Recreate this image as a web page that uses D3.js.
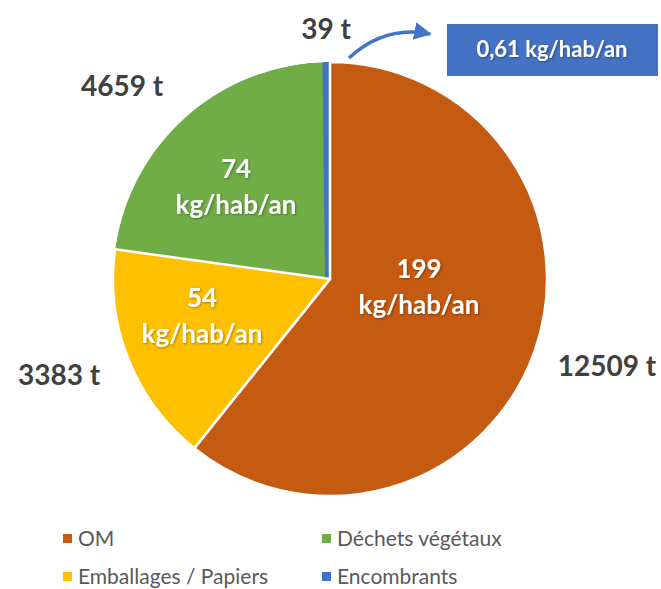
<!DOCTYPE html>
<html>
<head>
<meta charset="utf-8">
<script src="https://cdn.jsdelivr.net/npm/d3@7"></script>
<style>
  body { margin: 0; background: #fff; }
  svg { display: block; font-family: Lato, "Open Sans", sans-serif; }
</style>
</head>
<body>
<svg id="chart" width="661" height="589"></svg>
<script>
// data
let categories = ["OM", "Emballages / Papiers", "Déchets végétaux", "Encombrants"];
let tonnages   = [12509, 3383, 4659, 39];
let ratios     = ["199", "54", "74", "0,61"];
let colors     = ["#C55A11", "#FFC000", "#70AD47", "#4472C4"];
let legendOrder = [0, 2, 1, 3];

let svg = d3.select("#chart");
let cx = 330, cy = 279, radius = 217;

let rows = categories.map(function (c, i) {
    return {name: c, value: tonnages[i], ratio: ratios[i], color: colors[i], idx: i};
});

let pie = d3.pie().sort(null).value(function (d) { return d.value; });
let arc = d3.arc().innerRadius(0).outerRadius(radius);
let arcs = pie(rows);

let defs = svg.append("defs");
let shadow = defs.append("filter").attr("id", "shadow")
    .attr("x", "-20%").attr("y", "-20%").attr("width", "140%").attr("height", "140%");
shadow.append("feDropShadow")
    .attr("dx", 1).attr("dy", 1).attr("stdDeviation", 1)
    .attr("flood-color", "#000").attr("flood-opacity", 0.35);

defs.append("clipPath").attr("id", "pieClip")
    .append("circle").attr("r", radius);

defs.append("marker").attr("id", "arrowhead")
    .attr("viewBox", "0 0 10 10").attr("refX", 9).attr("refY", 5)
    .attr("markerWidth", 5).attr("markerHeight", 5)
    .attr("markerUnits", "strokeWidth")
    .attr("orient", "auto")
    .append("path").attr("d", "M0,0 L10,5 L0,10 Z").attr("fill", "#4472C4");

let g = svg.append("g").attr("transform", `translate(${cx},${cy})`);
let slices = g.append("g").attr("clip-path", "url(#pieClip)");

// tiny slice gets a border of its own colour so it stays visible
let drawOrder = [2, 3, 0, 1];
slices.selectAll("path.slice")
    .data(drawOrder.map(function (i) { return arcs[i]; }))
    .enter()
    .append("path").classed("slice", true)
    .attr("d", arc)
    .attr("fill", function (d) { return d.data.color; })
    .attr("stroke", function (d) { return d.data.idx === 3 ? d.data.color : "none"; })
    .attr("stroke-width", 10)
    .attr("stroke-linejoin", "round");

// white separators
g.selectAll("path.sep")
    .data(arcs.slice(0, 2))
    .enter()
    .append("path").classed("sep", true)
    .attr("d", arc)
    .attr("fill", "none")
    .attr("stroke", "#fff")
    .attr("stroke-width", 2.5)
    .attr("stroke-linejoin", "round");

// inner labels (kg/hab/an)
let innerPos = [[89, -1], [-128, 28], [-94, -101]];
arcs.slice(0, 3).forEach(function (d, i) {
    let t = g.append("text")
        .attr("text-anchor", "middle")
        .attr("fill", "#fff")
        .attr("font-weight", "bold")
        .attr("font-size", 26)
        .attr("filter", "url(#shadow)")
        .attr("transform", `translate(${innerPos[i][0]},${innerPos[i][1]})`);
    t.append("tspan").attr("x", 0).attr("y", 0).text(d.data.ratio);
    t.append("tspan").attr("x", 0).attr("y", 36).text("kg/hab/an");
});

// outer labels (tonnes)
let outerPos = [[277, 97], [-271, 106], [-208, -183], [-4, -240]];
arcs.forEach(function (d, i) {
    g.append("text")
        .attr("x", outerPos[i][0])
        .attr("y", outerPos[i][1])
        .attr("text-anchor", "middle")
        .attr("fill", "#404040")
        .attr("font-weight", "bold")
        .attr("font-size", 28)
        .text(d.data.value + " t");
});

// callout for the small slice
svg.append("path")
    .attr("d", "M349,58 Q385,25 430,34")
    .attr("fill", "none")
    .attr("stroke", "#4472C4")
    .attr("stroke-width", 3.5)
    .attr("marker-end", "url(#arrowhead)");

svg.append("rect")
    .attr("x", 447).attr("y", 24)
    .attr("width", 211).attr("height", 52)
    .attr("fill", "#4472C4");

svg.append("text")
    .attr("x", 552).attr("y", 57)
    .attr("text-anchor", "middle")
    .attr("fill", "#fff")
    .attr("font-weight", "bold")
    .attr("font-size", 22)
    .attr("filter", "url(#shadow)")
    .text(ratios[3] + " kg/hab/an");

// legend
let legendX = [63, 322], legendY = [546, 584];
let legend = svg.selectAll("g.legend")
    .data(legendOrder)
    .enter()
    .append("g").classed("legend", true)
    .attr("transform", function (d, i) {
        return `translate(${legendX[i % 2]},${legendY[Math.floor(i / 2)]})`;
    });

legend.append("rect")
    .attr("x", 0).attr("y", -12)
    .attr("width", 9).attr("height", 9)
    .attr("fill", function (d) { return colors[d]; });

legend.append("text")
    .attr("x", 15).attr("y", 0)
    .attr("fill", "#595959")
    .attr("font-size", 21)
    .text(function (d) { return categories[d]; });
</script>
</body>
</html>
